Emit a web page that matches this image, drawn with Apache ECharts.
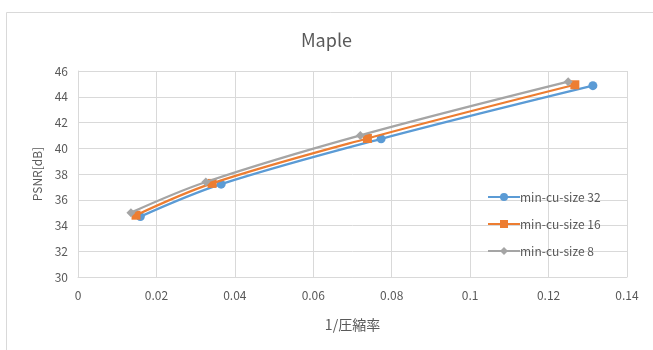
<!DOCTYPE html>
<html>
<head>
<meta charset="utf-8">
<script src="https://cdn.jsdelivr.net/npm/echarts@6/dist/echarts.min.js"></script>
<style>
  html, body { margin: 0; padding: 0; background: #fff; }
  #chart { width: 653px; height: 350px; }
</style>
</head>
<body>
<div id="chart"></div>
<script>
// Rate–distortion curves for the "Maple" sequence, one per minimum CU size.
const seriesNames = ['min-cu-size 32', 'min-cu-size 16', 'min-cu-size 8'];
const rate32 = [0.0159, 0.0365, 0.0773, 0.1313];
const psnr32 = [34.69, 37.21, 40.73, 44.86];
const rate16 = [0.0148, 0.0342, 0.0738, 0.1267];
const psnr16 = [34.80, 37.27, 40.76, 44.93];
const rate8 = [0.0135, 0.0326, 0.0720, 0.1250];
const psnr8 = [35.00, 37.38, 41.00, 45.17];
const colors = ['#5B9BD5', '#ED7D31', '#A5A5A5'];
const symbols = ['circle', 'rect', 'diamond'];
const symbolSizes = [9, 9, 9];

const pairs = (xs, ys) => xs.map((x, i) => [x, ys[i]]);
const data = [pairs(rate32, psnr32), pairs(rate16, psnr16), pairs(rate8, psnr8)];

const font = '"Noto Sans CJK JP", "Open Sans", sans-serif';
const textColor = '#595959';
const gridColor = '#D9D9D9';

const chart = echarts.init(document.getElementById('chart'), null, { renderer: 'canvas' });
chart.setOption({
  animation: false,
  backgroundColor: '#fff',
  graphic: [{
    type: 'rect',
    shape: { x: 6.5, y: 12.5, width: 700, height: 400 },
    style: { fill: 'none', stroke: '#D9D9D9', lineWidth: 1 },
    silent: true
  }],
  title: {
    text: 'Maple',
    left: 'center',
    top: 26,
    textStyle: { fontFamily: font, fontSize: 18, fontWeight: 'normal', color: textColor }
  },
  grid: { left: 78, right: 26, top: 71, bottom: 73, containLabel: false },
  legend: {
    data: seriesNames,
    orient: 'vertical',
    left: 482,
    top: 186,
    itemWidth: 32,
    itemHeight: 10,
    itemGap: 15,
    textStyle: { fontFamily: font, fontSize: 12, color: textColor, padding: [0, 0, 0, -5] }
  },
  xAxis: {
    type: 'value',
    min: 0,
    max: 0.14,
    interval: 0.02,
    name: '1/圧縮率',
    nameLocation: 'middle',
    nameGap: 41,
    nameTextStyle: { fontFamily: font, fontSize: 14, color: textColor },
    axisLine: { show: true, lineStyle: { color: gridColor } },
    axisTick: { show: false },
    axisLabel: {
      fontFamily: font, fontSize: 12, color: textColor, margin: 12,
      formatter: v => String(parseFloat(v.toFixed(2)))
    },
    splitLine: { show: true, lineStyle: { color: gridColor, width: 1 } }
  },
  yAxis: {
    type: 'value',
    min: 30,
    max: 46,
    interval: 2,
    name: 'PSNR[dB]',
    nameLocation: 'middle',
    nameGap: 35,
    nameRotate: 90,
    nameTextStyle: { fontFamily: font, fontSize: 12, color: textColor },
    axisLine: { show: true, lineStyle: { color: gridColor } },
    axisTick: { show: false },
    axisLabel: { fontFamily: font, fontSize: 12, color: textColor, margin: 10 },
    splitLine: { show: true, lineStyle: { color: gridColor, width: 1 } }
  },
  series: seriesNames.map((name, i) => ({
    name,
    type: 'line',
    data: data[i],
    smooth: 0.35,
    symbol: symbols[i],
    symbolSize: symbolSizes[i],
    showSymbol: true,
    lineStyle: { color: colors[i], width: 2.25 },
    itemStyle: { color: colors[i], borderWidth: 0 },
    z: 2 + i
  }))
});
</script>
</body>
</html>
